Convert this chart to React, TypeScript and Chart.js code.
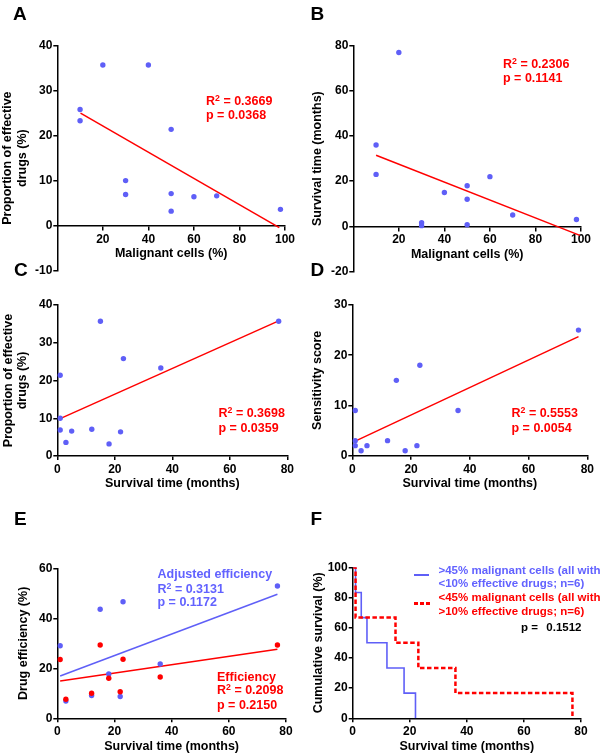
import React, { useEffect, useRef } from 'react';
import { Chart, registerables } from 'chart.js';

Chart.register(...registerables);

const FONT = "'Liberation Sans', Arial, Helvetica, sans-serif";
const BLUE = '#5f5ff7';
const BLUE_TEXT = '#6262ff';
const RED = '#ff0000';

// ---------------- data ----------------
// Panels A & B (12 patients): malignant cells (%)
const malignantCells = [10, 10, 20, 30, 30, 40, 50, 50, 50, 60, 70, 98];
const effectiveDrugsByMalignant = [25.8, 23.3, 35.7, 10.0, 6.9, 35.7, 21.4, 7.1, 3.2, 6.4, 6.6, 3.6];
const survivalByMalignant = [36, 23, 77, 1.6, 0.3, 15, 18, 12, 0.7, 22, 5, 3];
const fitA_x = [10.2, 97.5];
const fitA_y = [25.0, -0.45];
const fitB_x = [10, 99.5];
const fitB_y = [31.5, -4.0];

// Panels C & D (12 patients): survival time (months)
const survivalMonths = [1, 1, 1, 3, 5, 12, 15, 18, 22, 23, 36, 77];
const effectiveDrugsBySurvival = [21.4, 10.0, 6.9, 3.6, 6.6, 7.1, 35.7, 3.2, 6.4, 25.8, 23.3, 35.7];
const sensitivityScore = [9, 3, 2, 1, 2, 3, 15, 1, 2, 18, 9, 25];
const fitC_x = [1, 77];
const fitC_y = [9.9, 35.8];
const fitD_x = [1, 77];
const fitD_y = [2.9, 23.7];

// Panel E (9 patients)
const survivalE = [1, 3, 12, 15, 18, 22, 23, 36, 77];
const adjustedEfficiency = [29.0, 6.9, 9.1, 43.6, 17.7, 8.7, 46.6, 21.7, 52.9];
const efficiency = [23.5, 7.6, 10.0, 29.3, 16.0, 10.6, 23.6, 16.5, 29.3];
const fitAdj_x = [1, 77];
const fitAdj_y = [16.9, 49.6];
const fitEff_x = [1, 77];
const fitEff_y = [14.9, 27.6];

// Panel F: Kaplan-Meier
const kmHighTime = [0, 1, 3, 5, 12, 18, 22];
const kmHighSurv = [100, 83.3, 66.7, 50, 33.3, 16.7, 0];
const kmLowTime = [0, 1, 15, 23, 36, 77];
const kmLowSurv = [100, 66.7, 50, 33.3, 16.7, 0];

// tick values
const ticksA_x = [20, 40, 60, 80, 100];
const ticksA_y = [-10, 0, 10, 20, 30, 40];
const ticksB_x = [20, 40, 60, 80, 100];
const ticksB_y = [-20, 0, 20, 40, 60, 80];
const ticksSurv_x = [0, 20, 40, 60, 80];
const ticksC_y = [0, 10, 20, 30, 40];
const ticksD_y = [0, 10, 20, 30];
const ticksE_y = [0, 20, 40, 60];
const ticksF_y = [0, 20, 40, 60, 80, 100];

// ---------------- helpers ----------------
const pts = (xs: number[], ys: number[]) => xs.map((x, i) => ({ x, y: ys[i] }));

const scatterSet = (xs: number[], ys: number[], color: string, order: number) => ({
  type: 'scatter' as const,
  data: pts(xs, ys),
  backgroundColor: color,
  borderColor: color,
  borderWidth: 0,
  pointRadius: 2.7,
  order,
});

const lineSet = (xs: number[], ys: number[], color: string, order: number, extra: any = {}) => ({
  type: 'line' as const,
  data: pts(xs, ys),
  borderColor: color,
  backgroundColor: color,
  borderWidth: 1.5,
  pointRadius: 0,
  fill: false,
  tension: 0,
  order,
  ...extra,
});

type Spec = {
  box: number[];
  area: number[];
  xH: number;
  yTitlePad: number;
  xMin: number;
  xMax: number;
  xTicks: number[];
  yTicks: number[];
  xTitle: string | string[];
  yTitle: string | string[];
  xAtZero?: boolean;
  datasets: any[];
};

const specs: Spec[] = [
  {
    box: [0, 0, 300, 280], area: [57.3, 45.7, 285, 235], xH: 35.5, yTitlePad: 0.8,
    xMin: 0, xMax: 100, xTicks: ticksA_x, yTicks: ticksA_y, xAtZero: true,
    xTitle: 'Malignant cells (%)', yTitle: ['Proportion of effective', 'drugs (%)'],
    datasets: [scatterSet(malignantCells, effectiveDrugsByMalignant, BLUE, 0), lineSet(fitA_x, fitA_y, RED, 1)],
  },
  {
    box: [300, 0, 300, 280], area: [353.3, 45.7, 581, 236], xH: 35.5, yTitlePad: 10.8,
    xMin: 0, xMax: 100, xTicks: ticksB_x, yTicks: ticksB_y, xAtZero: true,
    xTitle: 'Malignant cells (%)', yTitle: 'Survival time (months)',
    datasets: [scatterSet(malignantCells, survivalByMalignant, BLUE, 0), lineSet(fitB_x, fitB_y, RED, 1)],
  },
  {
    box: [0, 240, 300, 260], area: [57.3, 305, 287.3, 456], xH: 34.8, yTitlePad: 1.1,
    xMin: 0, xMax: 80, xTicks: ticksSurv_x, yTicks: ticksC_y,
    xTitle: 'Survival time (months)', yTitle: ['Proportion of effective', 'drugs (%)'],
    datasets: [scatterSet(survivalMonths, effectiveDrugsBySurvival, BLUE, 0), lineSet(fitC_x, fitC_y, RED, 1)],
  },
  {
    box: [300, 240, 300, 260], area: [352.3, 305, 587.3, 455.7], xH: 35.1, yTitlePad: 10.8,
    xMin: 0, xMax: 80, xTicks: ticksSurv_x, yTicks: ticksD_y,
    xTitle: 'Survival time (months)', yTitle: 'Sensitivity score',
    datasets: [scatterSet(survivalMonths, sensitivityScore, BLUE, 0), lineSet(fitD_x, fitD_y, RED, 1)],
  },
  {
    box: [0, 490, 300, 266], area: [57.3, 568.3, 286, 718.3], xH: 35.2, yTitlePad: 16.1,
    xMin: 0, xMax: 80, xTicks: ticksSurv_x, yTicks: ticksE_y,
    xTitle: 'Survival time (months)', yTitle: 'Drug efficiency (%)',
    datasets: [
      scatterSet(survivalE, efficiency, RED, 0),
      scatterSet(survivalE, adjustedEfficiency, BLUE, 1),
      lineSet(fitAdj_x, fitAdj_y, BLUE, 2),
      lineSet(fitEff_x, fitEff_y, RED, 3),
    ],
  },
  {
    box: [300, 490, 300, 266], area: [352.7, 567.3, 581, 718.3], xH: 35.2, yTitlePad: 11.5,
    xMin: 0, xMax: 80, xTicks: ticksSurv_x, yTicks: ticksF_y,
    xTitle: 'Survival time (months)', yTitle: 'Cumulative survival (%)',
    datasets: [
      lineSet(kmHighTime, kmHighSurv, BLUE, 1, { stepped: 'before', borderWidth: 1.6 }),
      lineSet(kmLowTime, kmLowSurv, RED, 0, { stepped: 'before', borderWidth: 2.5, borderDash: [4.5, 2.5] }),
    ],
  },
];

function ChartPanel({ spec }: { spec: Spec }) {
  const ref = useRef<HTMLCanvasElement>(null);
  const [left, top, width, height] = spec.box;
  useEffect(() => {
    const [l, t, r, b] = spec.area;
    const yW = l - left;
    const tickFont = { family: FONT, size: 12, weight: 'bold' as const };
    const titleFont = { family: FONT, size: 12.5, weight: 'bold' as const, lineHeight: 1.15 };
    const grid = {
      drawOnChartArea: false, drawTicks: true, tickLength: 4,
      tickColor: '#000', tickWidth: 1.5, color: '#000', lineWidth: 1.5,
    };
    const border = { display: true, color: '#000', width: 1.5 };
    const chart = new Chart(ref.current as HTMLCanvasElement, {
      type: 'scatter',
      data: { datasets: spec.datasets },
      options: {
        animation: false,
        responsive: false,
        devicePixelRatio: 1,
        layout: {
          padding: { left: 0, top: t - top, right: left + width - r, bottom: top + height - b - spec.xH },
        },
        plugins: { legend: { display: false }, tooltip: { enabled: false } },
        scales: {
          x: {
            type: 'linear',
            min: spec.xMin,
            max: spec.xMax,
            position: spec.xAtZero ? { y: 0 } : 'bottom',
            afterBuildTicks: (s: any) => { s.ticks = spec.xTicks.map((v) => ({ value: v })); },
            afterFit: (s: any) => { s.height = spec.xH; },
            ticks: { color: '#000', font: tickFont, padding: 2.5, autoSkip: false, maxRotation: 0 },
            grid, border,
            title: { display: true, text: spec.xTitle, color: '#000', font: titleFont, padding: 0 },
          },
          y: {
            type: 'linear',
            min: spec.yTicks[0],
            max: spec.yTicks[spec.yTicks.length - 1],
            afterBuildTicks: (s: any) => { s.ticks = spec.yTicks.map((v) => ({ value: v })); },
            afterFit: (s: any) => { s.width = yW; },
            ticks: { color: '#000', font: tickFont, padding: 1, autoSkip: false },
            grid, border,
            title: { display: true, text: spec.yTitle, color: '#000', font: titleFont, padding: { top: spec.yTitlePad, bottom: 0 } },
          },
        } as any,
      },
    } as any);
    return () => chart.destroy();
  }, [spec]);
  return (
    <canvas
      ref={ref}
      width={width}
      height={height}
      style={{ position: 'absolute', left, top, width, height }}
    />
  );
}

function Txt({ x, base, size = 12.5, color = '#000', children }: any) {
  return (
    <div
      style={{
        position: 'absolute', left: x, top: base - 0.8465 * size, fontSize: size,
        lineHeight: `${size}px`, fontWeight: 'bold', color, fontFamily: FONT, whiteSpace: 'pre',
      }}
    >
      {children}
    </div>
  );
}

const Sup = ({ children }: any) => (
  <span style={{ fontSize: '0.7em', position: 'relative', top: '-0.45em' }}>{children}</span>
);

function Stat({ x, base, r2, p, color, gap = 13.5 }: any) {
  return (
    <>
      <Txt x={x} base={base} color={color}>R<Sup>2</Sup> = {r2}</Txt>
      <Txt x={x} base={base + gap} color={color}>p = {p}</Txt>
    </>
  );
}

export default function App() {
  return (
    <div
      style={{
        position: 'absolute', left: 0, top: 0, width: 600, height: 756,
        overflow: 'hidden', background: '#fff', fontFamily: FONT,
      }}
    >
      {specs.map((s, i) => <ChartPanel key={i} spec={s} />)}

      <Txt x={13} base={20} size={19}>A</Txt>
      <Txt x={310.5} base={20} size={19}>B</Txt>
      <Txt x={14} base={276} size={19}>C</Txt>
      <Txt x={310.5} base={276} size={19}>D</Txt>
      <Txt x={14} base={525} size={19}>E</Txt>
      <Txt x={310.5} base={525.5} size={19}>F</Txt>

      <Stat x={206} base={106} gap={13.5} r2="0.3669" p="0.0368" color={RED} />
      <Stat x={503} base={68.5} gap={14} r2="0.2306" p="0.1141" color={RED} />
      <Stat x={218.5} base={417.7} gap={14.8} r2="0.3698" p="0.0359" color={RED} />
      <Stat x={511.5} base={417.7} gap={14.6} r2="0.5553" p="0.0054" color={RED} />

      <Txt x={157.5} base={578.5} color={BLUE_TEXT}>Adjusted efficiency</Txt>
      <Stat x={157.5} base={593.5} gap={13.5} r2="0.3131" p="0.1172" color={BLUE_TEXT} />
      <Txt x={217} base={681.5} color={RED}>Efficiency</Txt>
      <Stat x={217} base={695} gap={14.5} r2="0.2098" p="0.2150" color={RED} />

      {/* Panel F legend */}
      <div style={{ position: 'absolute', left: 414, top: 574.3, width: 15, height: 1.6, background: BLUE }} />
      {[0, 1, 2].map((k) => (
        <div key={k} style={{ position: 'absolute', left: 413.5 + k * 6, top: 602, width: 4, height: 2.5, background: RED }} />
      ))}
      <Txt x={438.5} base={574.5} size={11.5} color={BLUE_TEXT}>{'>45% malignant cells (all with'}</Txt>
      <Txt x={438.5} base={588} size={11.5} color={BLUE_TEXT}>{'<10% effective drugs; n=6)'}</Txt>
      <Txt x={438.5} base={602} size={11.5} color={RED}>{'<45% malignant cells (all with'}</Txt>
      <Txt x={438.5} base={616} size={11.5} color={RED}>{'>10% effective drugs; n=6)'}</Txt>
      <Txt x={521} base={632} size={11.5}>p =</Txt>
      <Txt x={546.3} base={632} size={11.5}>0.1512</Txt>
    </div>
  );
}
